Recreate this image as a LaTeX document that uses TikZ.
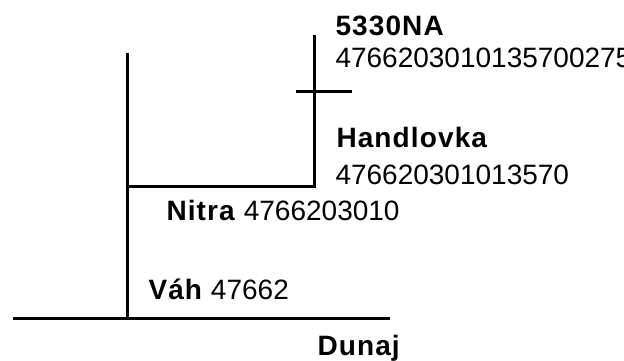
\documentclass[tikz,border=0pt]{standalone}
\usepackage{fontspec}
\setmainfont{Liberation Sans}[BoldFeatures={LetterSpace=4}]
\begin{document}
\begin{tikzpicture}[x=1pt,y=-1pt,line width=3pt,
    popis/.style={anchor=base west,inner sep=0pt,font=\fontsize{28}{32}\selectfont}]
    \useasboundingbox (0,0) rectangle (624,360);
    \clip (0,0) rectangle (624,360);
    % rieky
    \coordinate (dunajW) at (13,318);
    \coordinate (dunajE) at (390,318);
    \coordinate (vahUst) at (127,318);
    \coordinate (vahTop) at (127,53);
    \coordinate (nitraUst) at (127,186);
    \coordinate (nitraE) at (314,186);
    \coordinate (handTop) at (314,35);
    \coordinate (crossW) at (296,91.5);
    \coordinate (crossE) at (352,91.5);
    \draw (dunajW) -- (dunajE);
    \draw (vahUst) -- (vahTop);
    \draw (nitraUst) -- (nitraE) -- (handTop);
    \draw (crossW) -- (crossE);
    % popisy
    \node[popis] (lblNa) at (334,35) {\bfseries 5330NA};
    \node[popis] (kodNa) at (334,67) {4766203010135700275};
    \node[popis] (lblHand) at (335,147) {\bfseries Handlovka};
    \node[popis] (kodHand) at (334,184) {476620301013570};
    \node[popis] (lblNitra) at (165,220) {\textbf{Nitra} 4766203010};
    \node[popis] (lblVah) at (147,299) {\textbf{Váh} 47662};
    \node[popis] (lblDunaj) at (316,355) {\bfseries Dunaj};
\end{tikzpicture}
\end{document}
